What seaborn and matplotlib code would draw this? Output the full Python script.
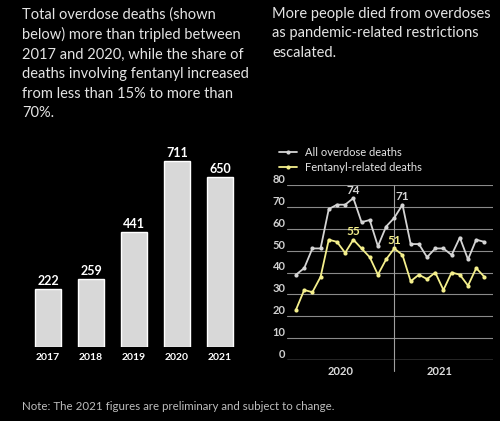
import numpy as np
import pandas as pd
import matplotlib.pyplot as plt
import seaborn as sns
from matplotlib.legend_handler import HandlerLine2D
from matplotlib.lines import Line2D

# yearly totals (bar chart)
years = ["2017", "2018", "2019", "2020", "2021"]
total_deaths = [222, 259, 441, 711, 650]

# monthly deaths, Jan 2020 - Dec 2021 (line chart)
months = list(range(24))
all_deaths = [39, 42, 51, 51, 69, 71, 71, 74, 63, 64, 52, 61,
              65, 71, 53, 53, 47, 51, 51, 48, 56, 46, 55, 54]
fentanyl_deaths = [23, 32, 31, 38, 55, 54, 49, 55, 51, 47, 39, 46,
                   51, 48, 36, 39, 37, 40, 32, 40, 39, 34, 42, 38]
year_labels = ["2020", "2021"]

BG = "black"
TXT = "#e4e4e4"
BAR = "#d8d8d8"
WHITE_LINE = "#d4d4d4"
YELLOW = "#f4ef8c"
GRID = "#8a8a8a"

sns.set_theme(style="dark")
plt.rcParams["font.family"] = ["Lato", "DejaVu Sans"]
plt.rcParams["figure.facecolor"] = BG
plt.rcParams["axes.facecolor"] = BG

fig = plt.figure(figsize=(5, 4.21), dpi=100)

# headline texts
fig.text(22 / 500, 1 - 7 / 421,
         "Total overdose deaths (shown\nbelow) more than tripled between\n"
         "2017 and 2020, while the share of\ndeaths involving fentanyl increased\n"
         "from less than 15% to more than\n70%.",
         color=TXT, fontsize=10.5, va="top", ha="left", linespacing=1.5)
fig.text(272 / 500, 1 - 7 / 421,
         "More people died from overdoses\nas pandemic-related restrictions\nescalated.",
         color=TXT, fontsize=10.5, va="top", ha="left", linespacing=1.5)
fig.text(22 / 500, 1 - 406 / 421,
         "Note: The 2021 figures are preliminary and subject to change.",
         color="#bdbdbd", fontsize=8.3, va="center", ha="left")

# ---- bar chart
ax1 = fig.add_axes([26.5 / 500, 74 / 421, 215 / 500, 209 / 421])
bars = pd.DataFrame({"year": years, "deaths": total_deaths})
sns.barplot(data=bars, x="year", y="deaths", color=BAR, saturation=1,
            width=0.6, ax=ax1)
ax1.set_ylim(0, 800)
ax1.set_xlim(-0.5, 4.5)
for i, v in enumerate(total_deaths):
    ax1.text(i, v + 8, str(v), ha="center", va="bottom", color="white",
             fontsize=9, fontweight="bold")
ax1.set_yticks([])
ax1.set_xlabel("")
ax1.set_ylabel("")
ax1.tick_params(axis="x", length=0, pad=4, labelcolor="white", labelsize=7.5)
for lab in ax1.get_xticklabels():
    lab.set_fontweight("bold")
for s in ax1.spines.values():
    s.set_visible(False)
ax1.grid(False)

# ---- line chart
ax2 = fig.add_axes([287 / 500, 61 / 421, 206 / 500, 175 / 421])
monthly = pd.DataFrame({"month": months, "all": all_deaths, "fent": fentanyl_deaths})
ax2.set_xlim(-1.1, 24.05)
ax2.set_ylim(0, 80)
ax2.set_yticks(range(0, 81, 10))
ax2.grid(False)
for y in range(10, 81, 10):
    ax2.axhline(y, color=GRID, lw=0.8, zorder=0)
ax2.axhline(0, color="#bdbdbd", lw=1, zorder=0)
ax2.axvline(12, ymin=-0.06, ymax=1, color="#a0a0a0", lw=0.8, clip_on=False, zorder=0)

sns.lineplot(data=monthly, x="month", y="all", color=WHITE_LINE, lw=1.3,
             marker="o", markersize=3, markeredgewidth=0, ax=ax2)
sns.lineplot(data=monthly, x="month", y="fent", color=YELLOW, lw=1.3,
             marker="o", markersize=3, markeredgewidth=0, ax=ax2)

for idx in [7, 13]:
    ax2.text(idx, all_deaths[idx] + 1.2, str(all_deaths[idx]), ha="center", va="bottom",
             color=WHITE_LINE, fontsize=8.5, fontweight="bold")
for idx in [7, 12]:
    ax2.text(idx, fentanyl_deaths[idx] + 1.2, str(fentanyl_deaths[idx]), ha="center",
             va="bottom", color=YELLOW, fontsize=8.5, fontweight="bold")

ax2.tick_params(axis="y", length=0, pad=1, labelcolor="#d0d0d0", labelsize=8)
for lab in ax2.get_yticklabels():
    lab.set_va("bottom")
    lab.set_fontweight("bold")
ax2.set_xticks([5.5, 17.5], labels=year_labels)
ax2.set_xticks(months, minor=True)
ax2.tick_params(axis="x", which="major", length=0, pad=4, labelcolor="#dddddd", labelsize=8)
ax2.tick_params(axis="x", which="minor", length=3, width=0.8, color=GRID, direction="out")
for lab in ax2.get_xticklabels():
    lab.set_fontweight("bold")
ax2.set_xlabel("")
ax2.set_ylabel("")
for s in ax2.spines.values():
    s.set_visible(False)


class EndMarker(HandlerLine2D):
    def get_xdata(self, legend, xdescent, ydescent, width, height, fontsize):
        xdata = [-xdescent, -xdescent + width]
        return xdata, [xdata[-1]]


handles = [Line2D([], [], color=WHITE_LINE, lw=1.3, marker="o", markersize=3, markeredgewidth=0),
           Line2D([], [], color=YELLOW, lw=1.3, marker="o", markersize=3, markeredgewidth=0)]
fig.legend(handles, ["All overdose deaths", "Fentanyl-related deaths"],
           loc="upper left", bbox_to_anchor=(279 / 500, 1 - 147 / 421),
           frameon=False, fontsize=8, labelcolor=TXT, handlelength=1.6,
           handletextpad=0.7, labelspacing=0.35, borderpad=0, borderaxespad=0,
           handler_map={Line2D: EndMarker()})

fig.savefig("out.png", dpi=100, facecolor=BG)
